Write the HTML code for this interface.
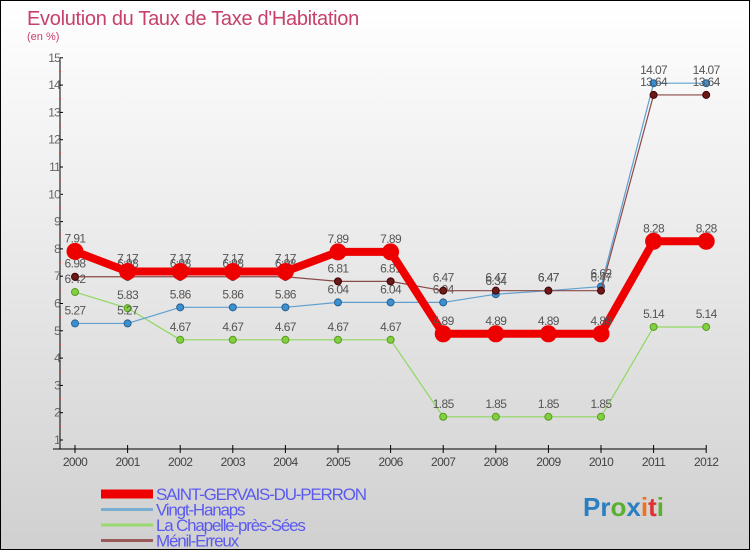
<!DOCTYPE html>
<html><head><meta charset="utf-8"><style>
html,body{margin:0;padding:0}
body{width:750px;height:550px;overflow:hidden;font-family:"Liberation Sans",sans-serif}
#wrap{position:relative;width:748px;height:548px;border:1px solid #000;background:linear-gradient(#ffffff,#d0d0d0)}
</style></head><body>
<div id="wrap">
<svg id="svg" width="748" height="548" xmlns="http://www.w3.org/2000/svg">
<text x="26" y="24" font-size="20" fill="#c8406a" letter-spacing="-0.3">Evolution du Taux de Taxe d'Habitation</text>
<text x="26" y="39" font-size="11" fill="#c8406a">(en %)</text>
<g id="axes"></g>
<g id="series"></g>
<g id="legend"></g>
<text x="582" y="515" font-size="26" font-weight="bold"><tspan fill="#2a7fc0">Pr</tspan><tspan fill="#5ab030">o</tspan><tspan fill="#2a7fc0">x</tspan><tspan fill="#f07020">i</tspan><tspan fill="#e03030">t</tspan><tspan fill="#5ab030">i</tspan></text>
</svg></div>
<script>
const years=[2000,2001,2002,2003,2004,2005,2006,2007,2008,2009,2010,2011,2012];
const yTicks=[1,2,3,4,5,6,7,8,9,10,11,12,13,14,15];
const saint=[7.91,7.17,7.17,7.17,7.17,7.89,7.89,4.89,4.89,4.89,4.89,8.28,8.28];
const vingt=[5.27,5.27,5.86,5.86,5.86,6.04,6.04,6.04,6.34,6.47,6.62,14.07,14.07];
const chapelle=[6.42,5.83,4.67,4.67,4.67,4.67,4.67,1.85,1.85,1.85,1.85,5.14,5.14];
const menil=[6.98,6.98,6.98,6.98,6.98,6.81,6.81,6.47,6.47,6.47,6.47,13.64,13.64];
const seriesNames=["SAINT-GERVAIS-DU-PERRON","Vingt-Hanaps","La Chapelle-près-Sées","Ménil-Erreux"];
const NS="http://www.w3.org/2000/svg";
const xs=i=>74+i*52.6;
const ys=v=>439-(v-1)*27.3;
function mk(p,t,a){const e=document.createElementNS(NS,t);for(const k in a)e.setAttribute(k,a[k]);p.appendChild(e);return e;}
const ax=document.getElementById('axes');
let l=mk(ax,'line',{x1:59,y1:ys(15),x2:59,y2:448,stroke:'#000'});


l=mk(ax,'line',{x1:52,y1:448,x2:705,y2:448,stroke:'#000'});


yTicks.forEach(v=>{
  mk(ax,'line',{x1:59,y1:ys(v),x2:62,y2:ys(v),stroke:'#000'});
  if(v<15)mk(ax,'line',{x1:58,y1:ys(v+0.5),x2:60,y2:ys(v+0.5),stroke:'#f33'});
  const t=mk(ax,'text',{x:59,y:ys(v)+4,'font-size':12,fill:'#666','text-anchor':'end','letter-spacing':'-0.8'});
  t.textContent=v;
  
  
});
years.forEach((y,i)=>{
  mk(ax,'line',{x1:xs(i),y1:444,x2:xs(i),y2:452,stroke:'#000'});
  const t=mk(ax,'text',{x:xs(i),y:465,'font-size':12,fill:'#444','text-anchor':'middle','letter-spacing':'-0.6'});
  t.textContent=y;
  
  
});
const sg=document.getElementById('series');
function draw(data,name,color,w,r,dot,stroke){
  const g=mk(sg,'g',{});
  
  
  mk(g,'polyline',{points:data.map((v,i)=>xs(i)+','+ys(v)).join(' '),fill:'none',stroke:color,'stroke-width':w,'stroke-linejoin':'round'});
  data.forEach((v,i)=>{
    const c=mk(g,'circle',{cx:xs(i),cy:ys(v),r:r,fill:dot,stroke:stroke,'stroke-width':1});
    
    
    const t=mk(g,'text',{x:xs(i),y:ys(v)-9,'font-size':12,fill:'#555','text-anchor':'middle','letter-spacing':'-0.6'});
    t.textContent=v;
  });
}
draw(chapelle,'series-la-chapelle','#8fd860',1.2,3.5,'#80d040','#5a9a20');
draw(vingt,'series-vingt-hanaps','#5fa0d0',1.2,3.5,'#3a90d0','#2a6090');
draw(menil,'series-menil-erreux','#8a4a4a',1.2,3.5,'#6a1a1a','#400');
draw(saint,'series-saint-gervais','#ee0000',8,8,'#ee0000','#ee0000');
const lg=document.getElementById('legend');
const cols=['#ee0000','#7aaed0','#9ad870','#9a5a5a'];
const wid=[9,3,3,3];
seriesNames.forEach((n,i)=>{
  const y=493+i*15.5;
  const ln=mk(lg,'line',{x1:100,y1:y,x2:152,y2:y,stroke:cols[i],'stroke-width':wid[i]});
  
  
  const t=mk(lg,'text',{x:155,y:y+6,'font-size':17,fill:'#5a5af0','letter-spacing':'-1.2'});
  t.textContent=n;
  
  
});
</script>
</body></html>
